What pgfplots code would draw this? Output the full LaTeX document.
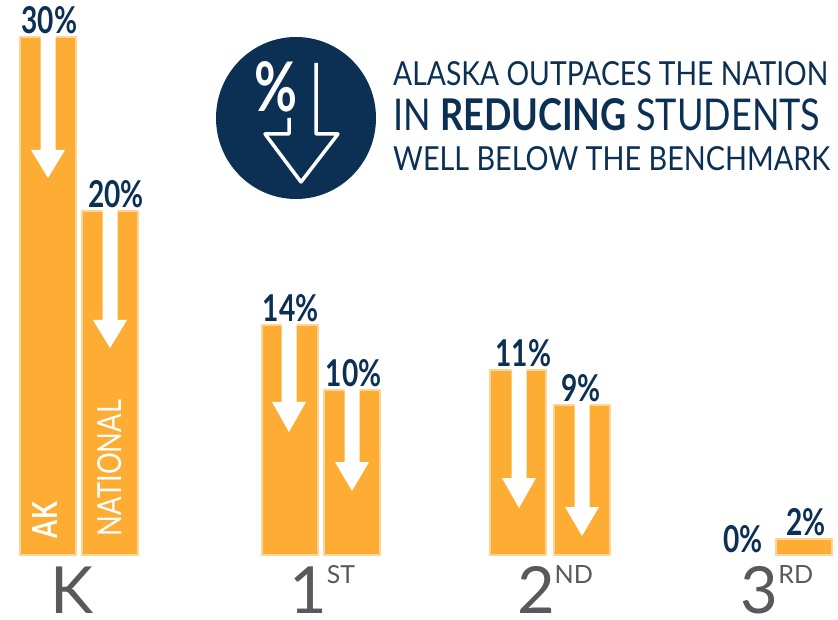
\documentclass[border=0pt]{standalone}
\usepackage{fontspec}
\setmainfont{Lato}
\usepackage{pgfplots}
\pgfplotsset{compat=1.18}
\definecolor{barc}{HTML}{FDAD33}
\definecolor{edgec}{HTML}{FED596}
\definecolor{navy}{HTML}{0B3054}
\definecolor{greyt}{HTML}{58595B}
\newcommand{\sz}[1]{\fontsize{#1}{#1}\selectfont}
\newcommand{\ord}[2]{#1\raisebox{30pt}{\resizebox{!}{18pt}{\sz{24}#2}}}
\begin{document}
\begin{tikzpicture}[x=1pt,y=1pt]
\path[use as bounding box] (0,0) rectangle (838,619);
\begin{axis}[
  at={(0pt,64pt)},anchor=south west,scale only axis,width=838pt,height=555pt,
  xmin=0,xmax=838,ymin=0,ymax=32.137,clip=false,
  axis line style={draw=none},tick style={draw=none},ytick=\empty,
  xtick={72,322,555,777},
  xticklabels={K,\ord{1}{ST},\ord{2}{ND},\ord{3}{RD}},
  xticklabel style={font=\sz{65},text=greyt,yshift=-54pt,anchor=base,inner sep=0pt},
  ybar,bar shift=0pt,bar width=56pt,
  point meta=explicit symbolic,
  visualization depends on={value \thisrow{dx} \as \dx},
  nodes near coords={\pgfplotspointmeta\%},
  nodes near coords style={font=\bfseries\sz{37},text=navy,xscale=.76,inner sep=2pt,anchor=south,xshift=\dx pt},
]
\addplot[fill=barc,draw=edgec,line width=1.5pt] table[x=x,y=h,meta=l] {
x h l dx
48 30.0 30 2
290 13.32 14 1
518 10.71 11 7
};
\addplot[fill=barc,draw=edgec,line width=1.5pt] table[x=x,y=h,meta=l] {
x h l dx
110 19.92 20 8
352 9.55 10 2
582 8.69 9 -1
804 0.93 2 3
};
\addplot[draw=none,fill=none] table[x=x,y=h,meta=l] {
x h l dx
742 0 0 1
};
\end{axis}
\begin{scope}[shift={(0,619)},y=-1pt]
% white arrows
\foreach \c/\t/\n/\b in {48/37/150/178,110/211/320/348,289/325/402/432,352/390/462/491,519/370/478/508,582/405/507/536}{
  \fill[white] ({\c-7.5},\t-1) -- ({\c-7.5},\n) -- ({\c-17},\n) -- (\c,\b) -- ({\c+17},\n) -- ({\c+7.5},\n) -- ({\c+7.5},\t-1) -- cycle;
}
\node[white,rotate=90,inner sep=0pt] at (44.5,520) {\resizebox{36pt}{25pt}{\textbf{AK}}};
\node[white,rotate=90,inner sep=0pt] at (110,468) {\resizebox{136pt}{24pt}{NATIONAL}};
% badge
\fill[navy] (296,118) ellipse [x radius=80,y radius=81];
\node[white,inner sep=0pt] at (276.5,87) {\resizebox{43pt}{50pt}{\textbf{\%}}};
\draw[white,line width=3.5pt,line join=round] (316,63) -- (316,134) -- (338,134) -- (301,182) -- (265,134) -- (289,134) -- (289,118);
% heading
\node[anchor=west,inner sep=0pt,text=navy] at (393,74) {\resizebox{435pt}{24pt}{ALASKA OUTPACES THE NATION}};
\node[anchor=west,inner sep=0pt,text=navy] at (393,115) {\resizebox{427pt}{32pt}{IN \textbf{REDUCING} STUDENTS}};
\node[anchor=west,inner sep=0pt,text=navy] at (393,159) {\resizebox{437pt}{24pt}{WELL BELOW THE BENCHMARK}};
\end{scope}
\end{tikzpicture}
\end{document}
